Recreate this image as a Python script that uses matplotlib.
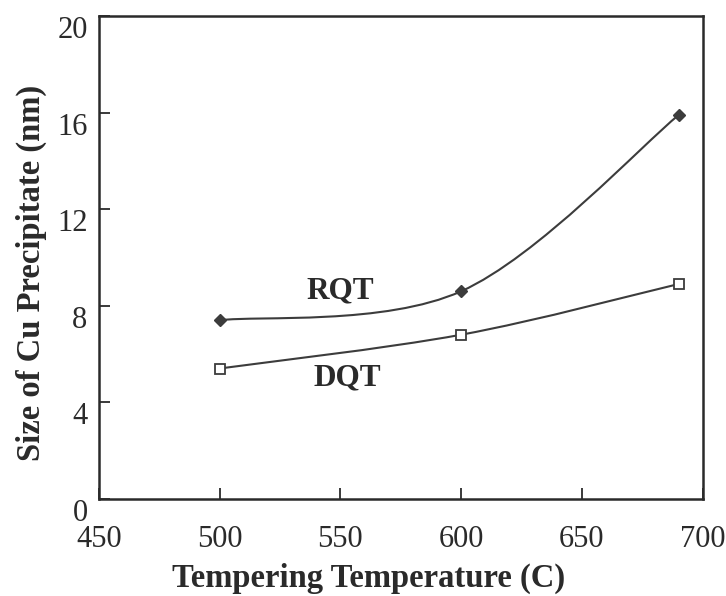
import numpy as np
import matplotlib
matplotlib.use("Agg")
from matplotlib import pyplot as plt
from matplotlib.path import Path
from matplotlib.patches import PathPatch
from matplotlib.transforms import ScaledTranslation

# data
temps = [500, 600, 690]
rqt_size = [7.4, 8.6, 15.9]
dqt_size = [5.4, 6.8, 8.9]

x_ticks = [450, 500, 550, 600, 650, 700]
y_ticks = [0, 4, 8, 12, 16, 20]

ink = '#2a2a2a'
line_col = '#3c3c3c'

plt.rcParams['font.family'] = ['Liberation Serif', 'DejaVu Serif']


def smooth_path(xs, ys, sx=250.0, sy=20.0):
    # Excel-like smoothed line: cubic bezier segments, control points from neighbours
    pts = np.column_stack([np.asarray(xs, float) / sx, np.asarray(ys, float) / sy])
    n = len(pts)
    verts = [pts[0]]
    codes = [Path.MOVETO]
    for i in range(n - 1):
        p_prev = pts[i - 1] if i > 0 else pts[i]
        p_next = pts[i + 2] if i + 2 < n else pts[i + 1]
        c1 = pts[i] + (pts[i + 1] - p_prev) / 6.0
        c2 = pts[i + 1] - (p_next - pts[i]) / 6.0
        verts += [c1, c2, pts[i + 1]]
        codes += [Path.CURVE4] * 3
    verts = np.array(verts) * [sx, sy]
    return Path(verts, codes)


fig = plt.figure(figsize=(7.26, 5.96), dpi=100)
ax = fig.add_axes([0.136, 0.163, 0.832, 0.810])

# smoothed connecting lines
for ys in (rqt_size, dqt_size):
    ax.add_patch(PathPatch(smooth_path(temps, ys), facecolor='none',
                           edgecolor=line_col, lw=1.5, zorder=2))

ax.plot(temps, rqt_size, ls='none', marker='D', ms=6.5, color=line_col, zorder=3)
ax.plot(temps, dqt_size, ls='none', marker='s', ms=7, mfc='white',
        mec=line_col, mew=1.3, zorder=3)

ax.text(550, 8.6, 'RQT', fontsize=22.5, fontweight='bold', color=ink,
        ha='center', va='center')
ax.text(553, 5.0, 'DQT', fontsize=22.5, fontweight='bold', color=ink,
        ha='center', va='center')

ax.set_xlim(450, 700)
ax.set_ylim(0, 20)
ax.set_xticks(x_ticks)
ax.set_yticks(y_ticks)
ax.tick_params(direction='in', length=8, width=1.3, colors=ink,
               labelsize=22, top=False, right=False)
ax.tick_params(axis='x', pad=19)
ax.tick_params(axis='y', pad=8)

# y tick labels in the original sit a little below their ticks
shift = ScaledTranslation(0, -8 / 72, fig.dpi_scale_trans)
for lab in ax.get_yticklabels():
    lab.set_transform(lab.get_transform() + shift)

for sp in ax.spines.values():
    sp.set_linewidth(1.8)
    sp.set_color(ink)

ax.set_xlabel('Tempering Temperature (C)', fontsize=23.5, fontweight='bold', color=ink)
ax.set_ylabel('Size of Cu Precipitate (nm)', fontsize=23.5, fontweight='bold', color=ink)
ax.xaxis.set_label_coords(0.447, -0.164)
ax.yaxis.set_label_coords(-0.112, 0.468)
ax.xaxis.label.set_va('center')
ax.yaxis.label.set_va('center')

plt.savefig('out.png', dpi=100)
